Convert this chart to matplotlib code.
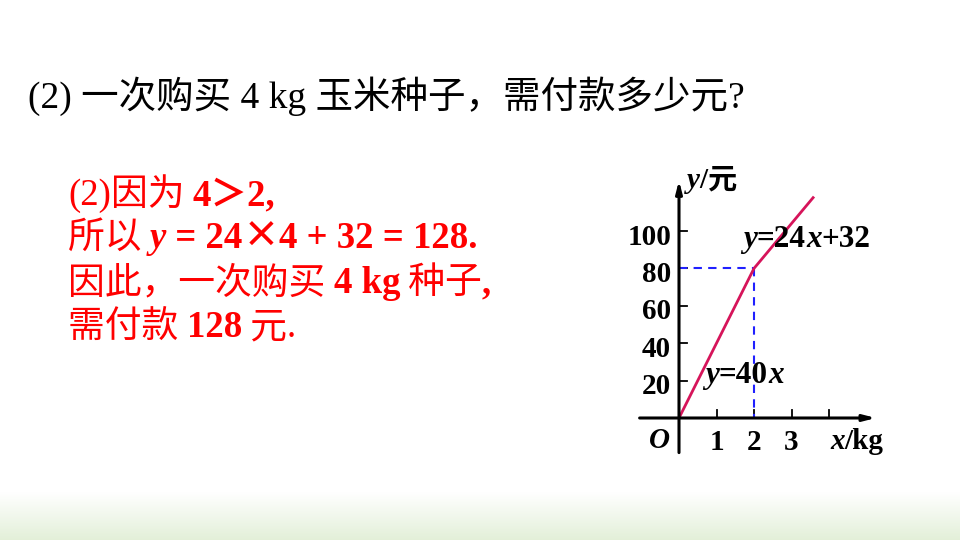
import numpy as np
import matplotlib.pyplot as plt

# -----------------------------
# data
# -----------------------------
line_x = [0, 2, 3.6]           # kg
line_y = [0, 80, 118.4]        # yuan
break_x, break_y = 2, 80
x_ticks = [1, 2, 3, 4]
x_tick_labels = ["1", "2", "3", ""]
y_ticks = [20, 40, 60, 80, 100]
y_tick_labels = ["20", "40", "60", "80", "100"]

title = "(2) 一次购买 4 kg 玉米种子，需付款多少元?"

SERIF = "Liberation Serif"
CJK = "Noto Sans CJK SC"
MIX = [SERIF, CJK]

RED = "#ff0000"
LINE_RED = "#d6145a"
BLUE = "#2020ff"

# -----------------------------
# helpers
# -----------------------------
def chain_text(ax, x, y, parts, **common):
    """Write text pieces one after another on a shared baseline."""
    s0, kw0 = parts[0]
    t = ax.text(x, y, s0, va="baseline", ha="left", **{**common, **kw0})
    for s, kw in parts[1:]:
        t = ax.annotate(s, xy=(1, y), xycoords=(t, "data"),
                        va="baseline", ha="left", **{**common, **kw})
    return t

reg = dict(family=SERIF)
bold = dict(family=SERIF, weight="bold")
boldit = dict(family=SERIF, weight="bold", style="italic")
cjk = dict(family=CJK)
cjkb = dict(family=MIX, weight="bold")
cjk_only_b = dict(family=CJK, weight="bold")

# -----------------------------
# figure + background
# -----------------------------
fig = plt.figure(figsize=(9.6, 5.4), dpi=100)
bg = fig.add_axes([0, 0, 1, 1])
bg.set_xlim(0, 960)
bg.set_ylim(540, 0)
bg.axis("off")

grad = np.linspace(0, 1, 64)[:, None, None]
top_c = np.array([1.0, 1.0, 1.0])
bot_c = np.array([0.89, 0.94, 0.85])
img = top_c + (bot_c - top_c) * grad
bg.imshow(np.repeat(img, 2, axis=1), extent=[0, 960, 540, 492], aspect="auto")

# title line
bg.text(28, 108, title, family=MIX, fontsize=27, color="black", va="baseline")

# red answer text
fs = 26.5
chain_text(bg, 68, 205, [("(2)", reg), ("因为 ", cjk), ("4＞2,", cjkb)],
           fontsize=fs, color=RED)
chain_text(bg, 68, 248, [("所以 ", cjk), ("y", boldit), (" = 24", bold), ("×", cjk_only_b),
                         ("4 + 32 = 128.", bold)],
           fontsize=fs, color=RED)
chain_text(bg, 68, 293, [("因此，一次购买 ", cjk), ("4 kg", bold), (" 种子", cjk), (",", bold)],
           fontsize=fs, color=RED)
chain_text(bg, 68, 337, [("需付款 ", cjk), ("128", bold), (" 元", cjk), (".", reg)],
           fontsize=fs, color=RED)

# -----------------------------
# the small graph
# -----------------------------
X0_PX, Y0_PX = 679, 418        # origin in pixels
PX_X, PX_Y = 37.5, 1.87        # pixels per unit
xlim = (-1.2, 5.6)
ylim = (-25, 140)
left = X0_PX + xlim[0] * PX_X
right = X0_PX + xlim[1] * PX_X
bottom = Y0_PX - ylim[0] * PX_Y
top = Y0_PX - ylim[1] * PX_Y
ax = fig.add_axes([left / 960, 1 - bottom / 540, (right - left) / 960, (bottom - top) / 540])
ax.set_xlim(*xlim)
ax.set_ylim(*ylim)
ax.axis("off")
ax.patch.set_alpha(0)

arrow = dict(arrowstyle="-|>,head_length=0.7,head_width=0.18", color="black",
             lw=2.2, shrinkA=0, shrinkB=0)
ax.annotate("", xy=(5.25, 0), xytext=(-1.05, 0), arrowprops=arrow)
ax.annotate("", xy=(0, 127), xytext=(0, -18.5), arrowprops=arrow)

for t in x_ticks:
    ax.plot([t, t], [0, 4.5], color="black", lw=1.3)
for t in y_ticks:
    ax.plot([0, 0.22], [t, t], color="black", lw=1.3)

# dashed guide lines to the break point
ax.plot([0, break_x], [break_y, break_y], color=BLUE, lw=1.5, ls=(0, (4, 3)))
ax.plot([break_x, break_x], [break_y, 0], color=BLUE, lw=1.5, ls=(0, (4, 3)))

ax.plot(line_x, line_y, color=LINE_RED, lw=2, solid_capstyle="butt")

lfs = 21
for t, s in zip(y_ticks, y_tick_labels):
    ax.text(-0.21, t - 7.3, s, ha="right", va="baseline", fontsize=lfs, **bold)
for t, s in zip(x_ticks, x_tick_labels):
    ax.text(t, -17.2, s, ha="center", va="baseline", fontsize=lfs, **bold)
ax.text(-0.53, -15.8, "O", ha="center", va="baseline", fontsize=lfs, **boldit)

chain_text(ax, 0.2, 123, [("y", boldit), ("/", bold), ("元", cjkb)], fontsize=lfs)
chain_text(ax, 4.03, -16.8, [("x", boldit), ("/kg", bold)], fontsize=lfs)
efs = 22.5
chain_text(ax, 1.71, 91.5, [("y", boldit), ("=24", bold), ("x", boldit), ("+32", bold)],
           fontsize=efs)
chain_text(ax, 0.69, 18.5, [("y", boldit), ("=40", bold), ("x", boldit)], fontsize=efs)

fig.savefig("out.png", dpi=100)
